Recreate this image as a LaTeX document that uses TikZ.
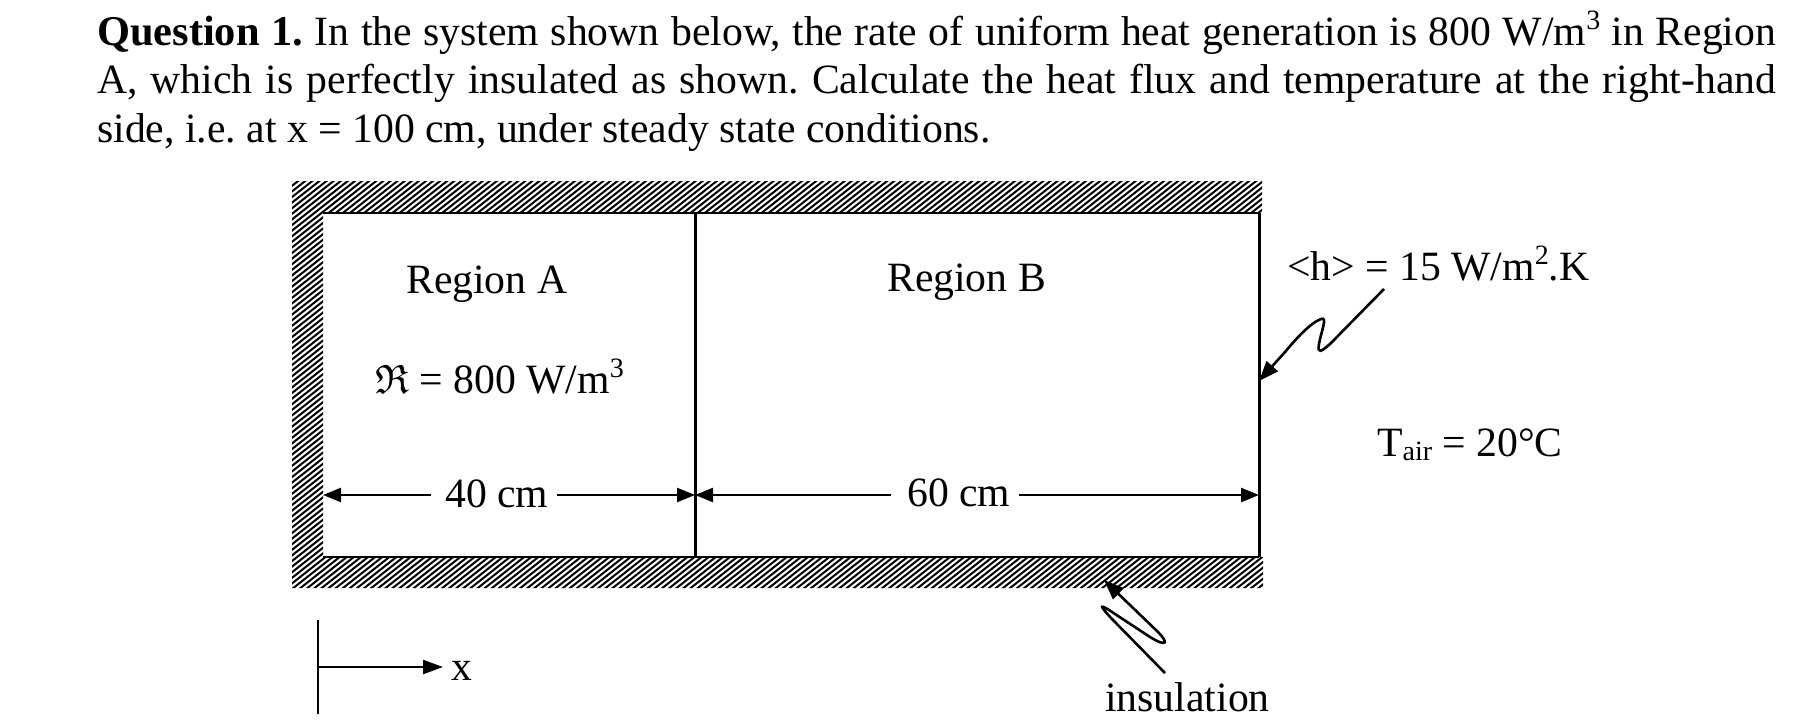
\documentclass[tikz,border=0pt]{standalone}
\usepackage{fontspec}
\usepackage{amsfonts}
\usepackage{graphicx}
\setmainfont{Liberation Serif}
\usetikzlibrary{arrows.meta}
\frenchspacing
\newcommand{\myup}[1]{\raisebox{15.5pt}{\fontsize{28}{28}\selectfont #1}}
\newcommand{\mydn}[1]{\raisebox{-4pt}{\fontsize{28}{28}\selectfont #1}}
\tikzset{
  lab/.style={anchor=base west,inner sep=0pt,font=\fontsize{41.7}{48.5}\selectfont},
  dimlab/.style={anchor=base west,inner ysep=0pt,inner xsep=9pt,font=\fontsize{41.7}{48.5}\selectfont},
  wall/.style={line width=3pt,black},
  edge/.style={line width=2.2pt,black},
  dimline/.style={line width=2.4pt,black,-{Triangle[length=18pt,width=14pt]}},
  zigline/.style={line width=2.6pt,black,-{Triangle[length=20pt,width=15pt]}},
}
\begin{document}
\begin{tikzpicture}[x=1pt,y=-1pt]
\useasboundingbox (0,0) rectangle (1797,721);
% hatching
\begin{scope}
  \clip (292,181) rectangle (1262,213)
        (292,181) rectangle (323,588)
        (292,557) rectangle (1263,588);
  \foreach \k in {0,...,215}{
    \pgfmathsetmacro{\cc}{405+5.6*\k}
    \draw[line width=2pt,black] (280,\cc-220.9) -- (1280,\cc-1010);
  }
\end{scope}
% corners and walls
\coordinate (tl) at (323,213);
\coordinate (tm) at (695,213);
\coordinate (tr) at (1259,213);
\coordinate (bl) at (323,557);
\coordinate (bm) at (695,557);
\coordinate (br) at (1259,557);
\draw[edge] (tl) -- (tr);
\draw[edge] (bl) -- (br);
\draw[wall] (tm) -- (bm);
\draw[wall] (tr) -- (br);
% header
\node[lab,text width=1679pt,align=justify] (question) at (97,45) {{\fontsize{42.4}{48.5}\selectfont\textbf{Question 1.}} In the system shown below, the rate of uniform heat generation is 800 W/m\myup{3} in Region\linebreak A, which is perfectly insulated as shown. Calculate the heat flux and temperature at the right-hand\linebreak side, i.e. at x = 100 cm, under steady state conditions.};
% labels
\node[lab] (ra) at (406,293) {Region A};
\node[lab] (rb) at (887,291) {Region B};
\node[lab] (gen) at (375,393) {\scalebox{4.1}{\normalsize$\mathfrak{R}$} = 800 W/m\myup{3}};
\node[lab] (hval) at (1287,280) {<h> = 15 W/m\myup{2}.K};
\node[lab] (tair) at (1377,456) {T\mydn{air} = 20°C};
\node[lab] (ins) at (1105,711) {insulation};
% dimensions
\coordinate (dl) at (323,495);
\coordinate (dm) at (695,495);
\coordinate (dr) at (1259,495);
\node[dimlab] (d40) at (436,507) {40 cm};
\node[dimlab] (d60) at (898,506) {60 cm};
\draw[dimline] ([xshift=-5pt]d40.west |- dl) -- (dl);
\draw[dimline] (d40.east |- dl) -- (dm);
\draw[dimline] ([xshift=-7pt]d60.west |- dl) -- (dm);
\draw[dimline] (d60.east |- dl) -- (dr);
% x axis
\coordinate (axt) at (318,620);
\coordinate (axb) at (318,714);
\coordinate (axo) at (318,667);
\coordinate (axe) at (443,667);
\draw[edge] (axt) -- (axb);
\draw[line width=2.4pt,-{Triangle[length=20pt,width=14pt]}] (axo) -- (axe);
\node[lab] (xl) at (451,680) {x};
% zigzag leaders
\coordinate (hs) at (1384,289);
\coordinate (ht) at (1259,381);
\coordinate (is) at (1165,673);
\coordinate (it) at (1104,580);
\draw[zigline] (hs) -- (1330,344) .. controls (1321,352) and (1317,354) .. (1319,344)
   .. controls (1321,332) and (1328,316) .. (1321,319)
   .. controls (1310,323) and (1295,340) .. (1285,352) -- (ht);
\draw[zigline] (is) -- (1112,619) .. controls (1098,604) and (1100,604) .. (1112,612)
   -- (1150,637) .. controls (1168,648) and (1168,642) .. (1158,632) -- (it);
\end{tikzpicture}
\end{document}
